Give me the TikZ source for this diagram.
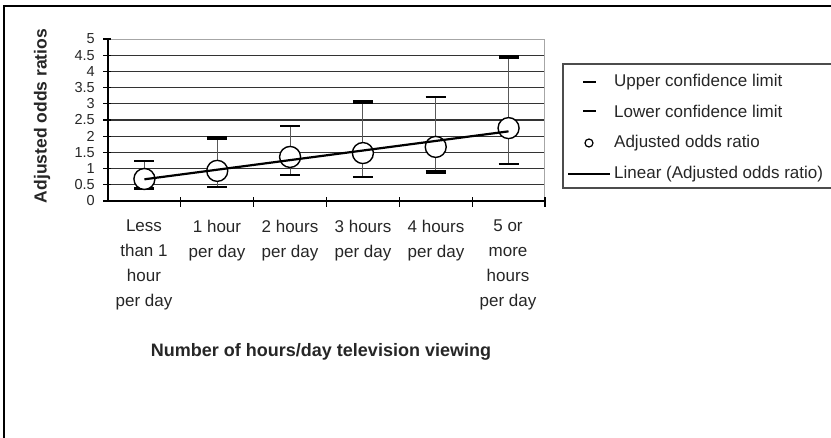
\documentclass[tikz,border=0pt]{standalone}
\usepackage{fontspec}
\setmainfont{Liberation Sans}
\usetikzlibrary{positioning}

\begin{document}
\begin{tikzpicture}[x=1pt,y=-1pt,
  grid line/.style={draw=black!80,line width=1.1pt},
  axis line/.style={draw=black,line width=1.2pt},
  err bar/.style={draw=black!65,line width=1.1pt},
  cap line/.style={draw=black,line width=#1},
  cap line/.default=2pt,
  odds mark/.style={circle,draw=black,fill=white,line width=1.4pt,
    minimum size=21pt,inner sep=0pt},
  trend line/.style={draw=black,line width=2.2pt},
  tick label/.style={anchor=east,inner sep=0pt,text=black!85,
    font=\fontsize{14.5}{14}\selectfont},
  cat label/.style={anchor=north,align=center,inner sep=0pt,text=black!85,
    font=\fontsize{17}{25}\selectfont},
  legend text/.style={anchor=west,inner sep=0pt,text=black!85,
    font=\fontsize{17}{20}\selectfont}]
  \useasboundingbox (0,0) rectangle (831,437);
  % frame
  \draw[line width=1.5pt] (4,440) -- (4,6) -- (835,6);

  % plot area, one unit = one category / one odds ratio
  \begin{scope}[shift={(108,201)},x=72.83pt,y=32.4pt]
    \foreach \v in {0.5,1,1.5,2,2.5,3,3.5,4,4.5}
      \draw[grid line] (0,\v) -- (6,\v);
    \draw[draw=black!35,line width=1pt] (0,5) -- (6,5) -- (6,0);
    \draw[axis line] (0,0) -- (0,5);
    \foreach \v [count=\i] in {0,0.5,1,1.5,2,2.5,3,3.5,4,4.5,5}{
      \draw[axis line] ([xshift=-5pt]0,\v) -- ([xshift=3pt]0,\v);
      \node[tick label] (yt\i) at ([xshift=-13pt]0,\v) {\v};
    }
    \draw[axis line] ([xshift=-5pt]0,0) -- (6,0);
    \foreach \c in {1,...,6}
      \draw[axis line] ([yshift=4pt]\c,0) -- ([yshift=-6pt]\c,0);

    % bars: category/lower/ratio/upper/lower cap/upper cap
    \foreach \c/\lo/\od/\hi/\wl/\wh in {1/0.40/0.68/1.23/3pt/2pt,
        2/0.43/0.93/1.94/2pt/3.5pt, 3/0.80/1.36/2.31/2pt/2pt,
        4/0.74/1.48/3.05/2pt/3.5pt, 5/0.90/1.67/3.21/3.5pt/2pt,
        6/1.14/2.25/4.44/2pt/3.5pt}{
      \draw[err bar] (\c-0.5,\lo) -- (\c-0.5,\hi);
      \draw[cap line=\wl] ([xshift=-10pt]\c-0.5,\lo) -- ([xshift=10pt]\c-0.5,\lo);
      \draw[cap line=\wh] ([xshift=-10pt]\c-0.5,\hi) -- ([xshift=10pt]\c-0.5,\hi);
      \node[odds mark] (or\c) at (\c-0.5,\od) {};
    }
    \coordinate (tr0) at (0.5,0.67);
    \coordinate (tr1) at (5.5,2.15);
    \draw[trend line] (tr0) -- (tr1);
  \end{scope}

  % category labels
  \node[cat label] (c1) at (144,220) {Less\\than 1\\hour\\per day};
  \node[cat label] (c2) at (217,220) {1 hour\\per day};
  \node[cat label] (c3) at (290,220) {2 hours\\per day};
  \node[cat label] (c4) at (363,220) {3 hours\\per day};
  \node[cat label] (c5) at (436,220) {4 hours\\per day};
  \node[cat label] (c6) at (508,220) {5 or\\more\\hours\\per day};

  \node[font=\fontsize{18}{20}\selectfont\bfseries,text=black!85] (xtitle)
    at (321,352) {Number of hours/day television viewing};
  \node[rotate=90,font=\fontsize{17.5}{20}\selectfont\bfseries,text=black!85]
    (ytitle) at (42,116) {Adjusted odds ratios};

  % legend
  \draw[draw=black!70,line width=1.3pt] (835,64) -- (563,64) -- (563,188) -- (835,188);
  \node[legend text] (lgup) at (614,82) {Upper confidence limit};
  \node[legend text] (lglo) at (614,111) {Lower confidence limit};
  \node[legend text] (lgodds) at (614,143) {Adjusted odds ratio};
  \node[legend text] (lglin) at (614,174) {Linear (Adjusted odds ratio)};
  \draw[cap line] (583,82) -- (596,82);
  \draw[cap line] (583,111) -- (596,111);
  \node[circle,draw=black,line width=1.2pt,minimum size=8pt,inner sep=0pt]
    (lgmark) at (589,143) {};
  \draw[trend line] (568,174) -- (610,174);
\end{tikzpicture}
\end{document}
